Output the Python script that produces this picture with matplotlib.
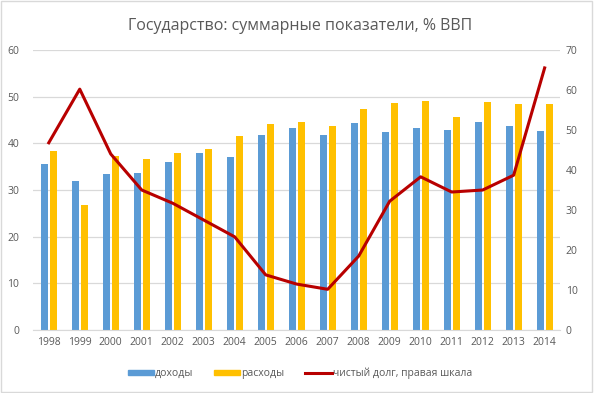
import matplotlib
matplotlib.use("Agg")
import matplotlib.pyplot as plt
import numpy as np
from matplotlib.patches import Rectangle
from matplotlib.lines import Line2D

years = ['1998', '1999', '2000', '2001', '2002', '2003', '2004', '2005', '2006',
         '2007', '2008', '2009', '2010', '2011', '2012', '2013', '2014']
dohody = [35.6, 31.9, 33.4, 33.6, 36.0, 37.9, 37.1, 41.8, 43.3,
          41.8, 44.3, 42.4, 43.3, 42.9, 44.5, 43.7, 42.6]
rashody = [38.4, 26.8, 37.3, 36.6, 37.9, 38.8, 41.6, 44.1, 44.6,
           43.7, 47.4, 48.6, 49.1, 45.6, 48.8, 48.5, 48.4]
dolg = [46.8, 60.2, 44.0, 35.0, 31.7, 27.5, 23.3, 13.8, 11.5,
        10.2, 18.5, 32.2, 38.3, 34.5, 35.0, 38.7, 65.5]

plt.rcParams['font.family'] = ['Open Sans', 'DejaVu Sans']
grey = '#595959'

fig = plt.figure(figsize=(5.94, 3.93), dpi=100)
ax = fig.add_axes([0.056, 0.160, 0.887, 0.713])
ax2 = ax.twinx()

x = np.arange(len(years))
w = 0.23
ax.bar(x - 0.145, dohody, w, color='#5B9BD5', zorder=2)
ax.bar(x + 0.145, rashody, w, color='#FFC000', zorder=2)
ax2.plot(x, dolg, color='#B80000', lw=2.2, zorder=3)

ax.set_ylim(0, 60)
ax.set_yticks(range(0, 61, 10))
ax2.set_ylim(0, 70)
ax2.set_yticks(range(0, 71, 10))
ax.set_xlim(-0.5, len(years) - 0.5)
ax.set_xticks(x)
ax.set_xticklabels(years)
ax.grid(axis='y', color='#D9D9D9', lw=0.9, zorder=0)
ax.set_axisbelow(True)

for a in (ax, ax2):
    for s in a.spines.values():
        s.set_visible(False)
    a.tick_params(length=0, colors=grey, labelsize=7.5)
ax.spines['bottom'].set_visible(True)
ax.spines['bottom'].set_color('#D9D9D9')
ax.tick_params(axis='y', pad=10)
ax2.tick_params(axis='y', pad=4)
ax.tick_params(axis='x', pad=5)

fig.suptitle('Государство: суммарные показатели, % ВВП', x=0.505, y=0.955,
             fontsize=11.5, color=grey)

handles = [Rectangle((0, 0), 1, 1, color='#5B9BD5'),
           Rectangle((0, 0), 1, 1, color='#FFC000'),
           Line2D([0], [0], color='#B80000', lw=2.2)]
fig.legend(handles, ['доходы', 'расходы', 'чистый долг, правая шкала'],
           loc='center', bbox_to_anchor=(0.505, 0.05), ncol=3, frameon=False,
           fontsize=7.5, labelcolor=grey, handlelength=2.5, handleheight=0.45,
           handletextpad=0.1, columnspacing=2.0)

fig.patches.append(Rectangle((0.002, 0.003), 0.995, 0.994, transform=fig.transFigure,
                             fill=False, edgecolor='#D9D9D9', lw=1))

fig.savefig('out.png', dpi=100)
